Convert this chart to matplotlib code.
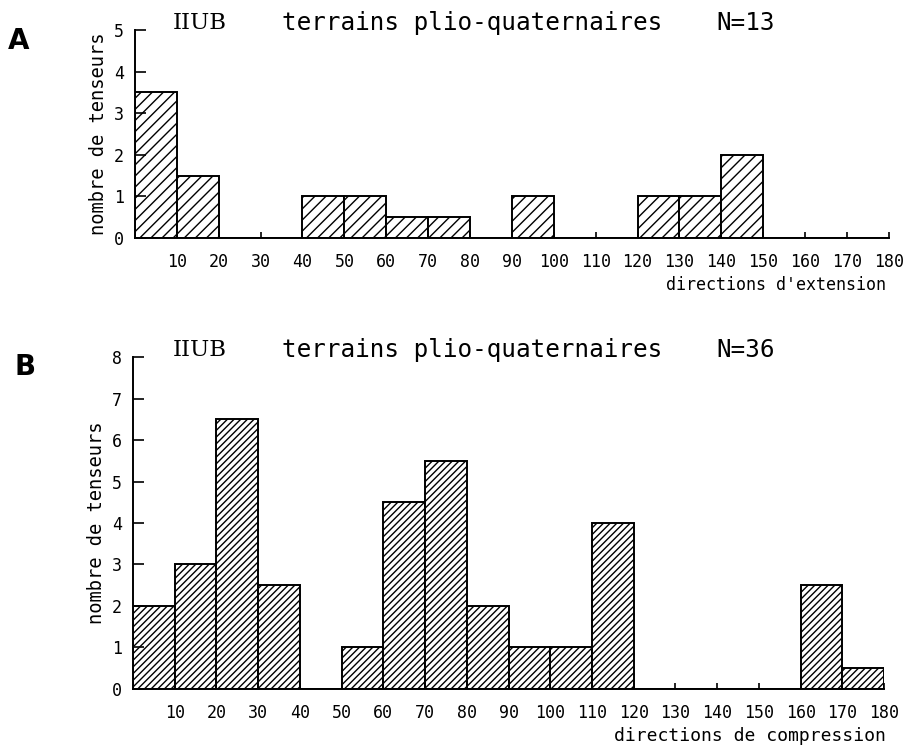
import matplotlib
matplotlib.use("Agg")
import matplotlib.pyplot as plt
import numpy as np

# class edges (degrees) and counts
edges = np.arange(0, 180, 10)
ext_counts = [3.5, 1.5, 0, 0, 1, 1, 0.5, 0.5, 0, 1, 0, 0, 1, 1, 2, 0, 0, 0]
comp_counts = [2, 3, 6.5, 2.5, 0, 1, 4.5, 5.5, 2, 1, 1, 4, 0, 0, 0, 0, 2.5, 0.5]
xticks = np.arange(10, 190, 10)

plt.rcParams['hatch.linewidth'] = 1.0
mono = 'DejaVu Sans Mono'

fig = plt.figure(figsize=(9.07, 7.51), dpi=100)


def panel(rect, counts, ymax, hatch, xlabel, xlabel_size, n, letter, letter_xy, title_y):
    ax = fig.add_axes(rect)
    ax.bar(edges, counts, width=10, align='edge', facecolor='white',
           edgecolor='black', linewidth=1.4, hatch=hatch)
    ax.set_xlim(0, 180)
    ax.set_ylim(0, ymax)
    for s in ('top', 'right'):
        ax.spines[s].set_visible(False)
    ax.spines['left'].set_linewidth(1.4)
    ax.spines['bottom'].set_linewidth(1.4)
    ax.set_xticks(xticks)
    ax.set_xticklabels([str(v) for v in xticks], family=mono, fontsize=12)
    ax.set_yticks(range(0, ymax + 1))
    ax.set_yticklabels([str(v) for v in range(0, ymax + 1)], family=mono, fontsize=12)
    ax.tick_params(axis='x', direction='in', length=4, width=1.2, pad=11)
    ax.tick_params(axis='y', direction='in', length=8, width=1.2, pad=8)
    ax.set_ylabel('nombre de tenseurs', family=mono, fontsize=13.5, labelpad=4)
    fig.text(0.977, rect[1] - 0.063, xlabel, family=mono, fontsize=xlabel_size,
             ha='right', va='center')
    fig.text(0.191, title_y, 'IIUB', family='DejaVu Serif', fontsize=16.5,
             ha='left', va='center')
    fig.text(0.311, title_y, 'terrains plio-quaternaires', family=mono,
             fontsize=17.5, ha='left', va='center')
    fig.text(0.79, title_y, 'N=%d' % n, family=mono, fontsize=17.5,
             ha='left', va='center')
    fig.text(letter_xy[0], letter_xy[1], letter, family='DejaVu Sans',
             fontweight='bold', fontsize=20, ha='left', va='center')
    return ax


panel([0.1488, 0.683, 0.8312, 0.277], ext_counts, 5, '///',
      "directions d'extension", 12, 13, 'A', (0.009, 0.946), 0.970)
panel([0.1466, 0.0826, 0.8281, 0.442], comp_counts, 8, '/////',
      'directions de compression', 13, 36, 'B', (0.016, 0.511), 0.534)

fig.savefig('out.png', dpi=100)
